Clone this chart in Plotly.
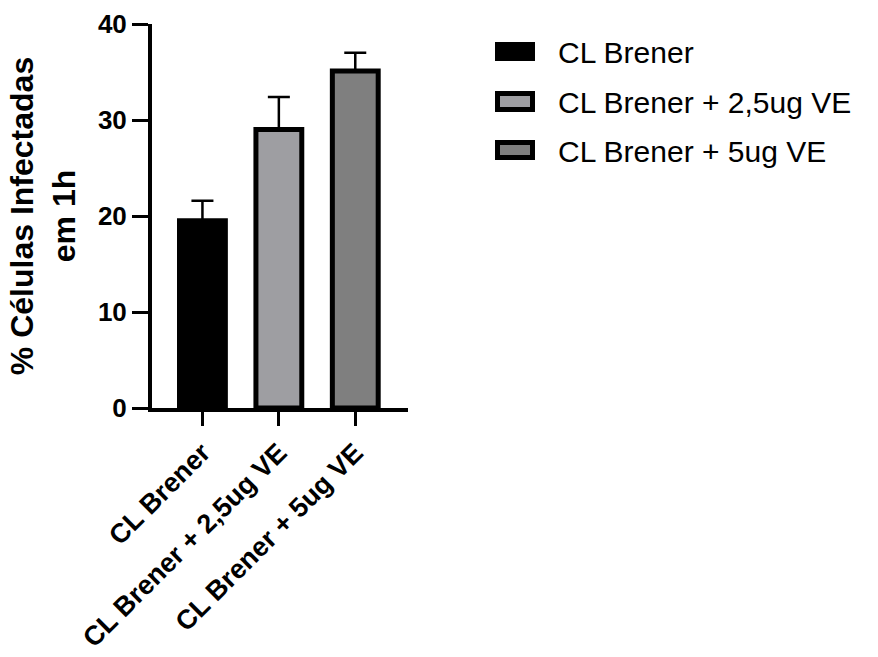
import plotly.graph_objects as go

# Infection data (% infected cells after 1 h), mean and upper SD
categories = ["CL Brener", "CL Brener + 2,5ug VE", "CL Brener + 5ug VE"]
means = [19.5, 29.0, 35.1]
errors_up = [2.1, 3.4, 1.9]
fill_colors = ["#000000", "#9e9ea2", "#7f7f7f"]
y_ticks = [0, 10, 20, 30, 40]

W, H = 878, 657
L, R, T, B = 152, 408, 24, 408  # plot area in pixels
PW, PH = R - L, B - T


def px_x(x):
    return (x - L) / PW


def px_y(y):
    return (B - y) / PH


FONT = "Liberation Sans, Arial, sans-serif"

fig = go.Figure()
fig.add_trace(go.Bar(
    x=categories,
    y=means,
    width=0.6,
    marker=dict(color=fill_colors, line=dict(color="black", width=5)),
    error_y=dict(type="data", symmetric=False, array=errors_up,
                 arrayminus=[0] * len(means), color="black",
                 thickness=2.5, width=11),
    showlegend=False,
))

# Legend drawn as boxes + labels
legend_rows = [(44.5, 58.5), (93.5, 109.5), (142.5, 157.5)]
for (y0, y1), name, col in zip(legend_rows, categories, fill_colors):
    fig.add_shape(type="rect", xref="paper", yref="paper",
                  x0=px_x(497.5), x1=px_x(532.5), y0=px_y(y1), y1=px_y(y0),
                  fillcolor=col, line=dict(color="black", width=5))
    fig.add_annotation(xref="paper", yref="paper", x=px_x(556), y=px_y((y0 + y1) / 2 + 1),
                       xanchor="left", yanchor="middle", showarrow=False,
                       text=name, font=dict(family=FONT, size=30, color="black"))

fig.update_layout(
    width=W, height=H,
    margin=dict(l=L, r=W - R, t=T, b=H - B, autoexpand=False),
    plot_bgcolor="white", paper_bgcolor="white",
    bargap=0.4,
    font=dict(family=FONT, color="black"),
    xaxis=dict(
        range=[-0.66, 2.69],
        showline=True, linecolor="black", linewidth=4,
        ticks="outside", ticklen=14, tickwidth=3, tickcolor="black",
        tickangle=-45,
        tickfont=dict(family=FONT, size=27, weight="bold", color="black"),
        showgrid=False, zeroline=False,
    ),
    yaxis=dict(
        range=[0, 40],
        tickvals=y_ticks,
        showline=True, linecolor="black", linewidth=4,
        ticks="outside", ticklen=16, tickwidth=3, tickcolor="black",
        tickfont=dict(family=FONT, size=26, weight="bold", color="black"),
        showgrid=False, zeroline=False,
        title=dict(text="% Células Infectadas<br>em 1h", standoff=14,
                   font=dict(family=FONT, size=32, weight="bold", color="black")),
    ),
)

fig.write_html("out.html")
